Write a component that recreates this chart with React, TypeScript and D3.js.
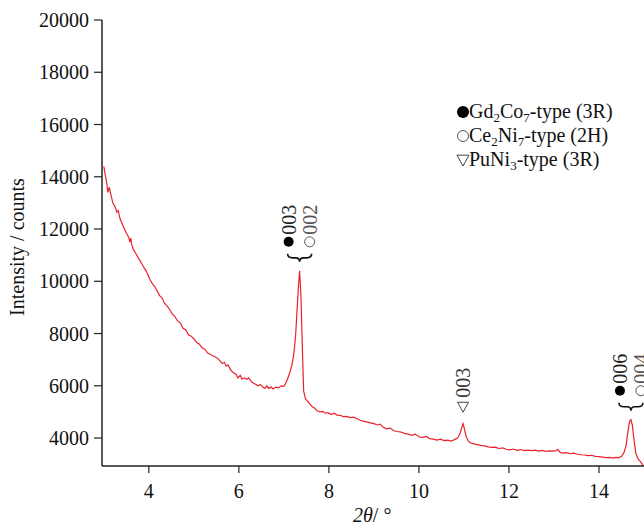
import React from 'react'
import * as d3 from 'd3'

// diffraction pattern
const twoTheta = [
  3.00, 3.04, 3.07, 3.09, 3.12, 3.16, 3.20, 3.25, 3.29, 3.32, 3.36, 3.42, 3.46, 3.50, 3.55, 3.58, 3.60, 3.62, 3.66, 3.70,
  3.75, 3.80, 3.85, 3.90, 3.94, 3.98, 4.03, 4.08, 4.13, 4.18, 4.24, 4.30, 4.35, 4.41, 4.47, 4.52, 4.58, 4.63, 4.70, 4.76,
  4.82, 4.88, 4.94, 5.00, 5.07, 5.12, 5.18, 5.24, 5.31, 5.37, 5.42, 5.48, 5.53, 5.58, 5.63, 5.68, 5.72, 5.76, 5.82, 5.88,
  5.93, 5.98, 6.03, 6.07, 6.12, 6.18, 6.22, 6.28, 6.33, 6.38, 6.43, 6.48, 6.53, 6.58, 6.62, 6.66, 6.72, 6.76, 6.82, 6.88,
  6.94, 7.00, 7.04, 7.08, 7.13, 7.18, 7.22, 7.26, 7.29, 7.32, 7.35, 7.38, 7.41, 7.44, 7.48, 7.53, 7.58, 7.63, 7.68, 7.73,
  7.80, 7.86, 7.92, 7.98, 8.05, 8.12, 8.18, 8.25, 8.32, 8.40, 8.47, 8.55, 8.62, 8.69, 8.76, 8.84, 8.92, 9.00, 9.08, 9.14,
  9.20, 9.28, 9.36, 9.44, 9.52, 9.60, 9.68, 9.76, 9.84, 9.92, 10.00, 10.08, 10.16, 10.24, 10.32, 10.40, 10.48, 10.56, 10.64, 10.72,
  10.80, 10.86, 10.91, 10.95, 10.98, 11.01, 11.05, 11.10, 11.16, 11.22, 11.30, 11.38, 11.46, 11.54, 11.62, 11.70, 11.78, 11.86, 11.94, 12.02,
  12.10, 12.18, 12.26, 12.34, 12.42, 12.50, 12.58, 12.66, 12.74, 12.82, 12.90, 12.98, 13.05, 13.09, 13.13, 13.20, 13.28, 13.36, 13.44, 13.52,
  13.60, 13.68, 13.76, 13.84, 13.92, 14.00, 14.08, 14.16, 14.24, 14.31, 14.38, 14.44, 14.50, 14.55, 14.60, 14.64, 14.68, 14.71, 14.74, 14.78,
  14.82, 14.87, 14.92, 14.96, 15.00,
]
const intensity = [
  14400, 14000, 13700, 13400, 13600, 13300, 13000, 12850, 12650, 12700, 12400, 12150, 12000, 11850, 11700, 11500, 11650, 11400, 11200, 11100,
  10950, 10800, 10650, 10500, 10400, 10250, 10050, 9900, 9800, 9650, 9450, 9350, 9150, 9050, 8900, 8750, 8650, 8500, 8400, 8200,
  8150, 7950, 7900, 7800, 7650, 7600, 7450, 7400, 7250, 7200, 7150, 7100, 7050, 6950, 6850, 6900, 6750, 6800, 6600, 6500,
  6450, 6300, 6400, 6250, 6300, 6250, 6300, 6150, 6100, 6050, 6000, 6050, 5950, 5900, 6000, 5900, 5950, 5880, 5950, 5920,
  6000, 5980, 6100, 6250, 6500, 6800, 7200, 7900, 8800, 9700, 10400, 9400, 7500, 5800, 5500, 5400, 5300, 5200, 5150, 5050,
  5000, 5020, 4950, 4970, 4900, 4950, 4880, 4870, 4820, 4830, 4780, 4800, 4750, 4680, 4650, 4620, 4580, 4550, 4500, 4530,
  4420, 4350, 4380, 4280, 4250, 4230, 4180, 4150, 4100, 4150, 4050, 4020, 4060, 3980, 3960, 3920, 3960, 3900, 3920, 3880,
  3950, 4000, 4150, 4400, 4550, 4350, 4050, 3880, 3800, 3780, 3750, 3720, 3700, 3660, 3640, 3650, 3600, 3620, 3570, 3550,
  3580, 3530, 3560, 3520, 3540, 3520, 3540, 3500, 3530, 3490, 3510, 3500, 3520, 3570, 3460, 3420, 3440, 3400, 3420, 3380,
  3360, 3350, 3330, 3340, 3300, 3290, 3270, 3250, 3260, 3230, 3260, 3250, 3300, 3420, 3700, 4200, 4650, 4700, 4500, 3900,
  3400, 3200, 3100, 3000, 2900,
]

const yTicks = [4000, 6000, 8000, 10000, 12000, 14000, 16000, 18000, 20000]
const xTicks = [4, 6, 8, 10, 12, 14]

// peak labels: 2θ and intensity at the top of the peak
const pairPeaks = [
  { at: 7.35, top: 10400, filled: '003', open: '002' },
  { at: 14.71, top: 4700, filled: '006', open: '004' },
]
const trianglePeaks = [{ at: 10.98, top: 4550, label: '003' }]

const legendLabels = [
  { symbol: 'filled', parts: ['Gd', '2', 'Co', '7', '-type (3R)'] },
  { symbol: 'open', parts: ['Ce', '2', 'Ni', '7', '-type (2H)'] },
  { symbol: 'triangle', parts: ['PuNi', '3', '-type (3R)'] },
]

const W = 644
const H = 525
const font = '"Liberation Serif", "Times New Roman", serif'
const ink = '#222'

function Symbol({ kind, x, y, r }: { kind: string; x: number; y: number; r: number }) {
  if (kind === 'filled') return <circle cx={x} cy={y} r={r} fill="#000" />
  if (kind === 'open') return <circle cx={x} cy={y} r={r} fill="none" stroke="#555" strokeWidth={1} />
  const s = r * 1.1
  return <path d={`M${x - s},${y - s * 0.8}L${x + s},${y - s * 0.8}L${x},${y + s}Z`} fill="none" stroke="#444" strokeWidth={1} />
}

function brace(cx: number, y0: number) {
  return `M${cx - 12},${y0} Q${cx - 12},${y0 + 4} ${cx - 7},${y0 + 4} L${cx - 4},${y0 + 4} Q${cx},${y0 + 4} ${cx},${y0 + 8}` +
    ` Q${cx},${y0 + 4} ${cx + 4},${y0 + 4} L${cx + 7},${y0 + 4} Q${cx + 12},${y0 + 4} ${cx + 12},${y0}`
}

export default function App() {
  const x = d3.scaleLinear().domain([2.96, 15]).range([102, 644])
  const y = d3.scaleLinear().domain([2930, 20000]).range([466, 20])
  const pts: [number, number][] = twoTheta.map((t, i) => [t, intensity[i]])
  const line = d3.line<[number, number]>().x(d => x(d[0])).y(d => y(d[1]))

  const x0 = x.range()[0]
  const yb = y.range()[0]

  return (
    <svg width={W} height={H} style={{ position: 'absolute', left: 0, top: 0, background: '#fff' }} fontFamily={font}>
      <defs>
        <clipPath id="plot"><rect x={x0} y={0} width={W - x0} height={yb - 0.5} /></clipPath>
      </defs>

      <path d={line(pts) || ''} fill="none" stroke="#e8222c" strokeWidth={1.2} clipPath="url(#plot)" />

      {/* axes */}
      <line x1={x0} x2={x0} y1={y(20000)} y2={yb} stroke={ink} strokeWidth={1.5} />
      <line x1={x0} x2={W} y1={yb} y2={yb} stroke={ink} strokeWidth={1.5} />
      {yTicks.map(t => (
        <g key={t}>
          <line x1={x0 - 8} x2={x0} y1={y(t)} y2={y(t)} stroke={ink} strokeWidth={1.2} />
          <text x={x0 - 13} y={y(t)} dy="0.35em" textAnchor="end" fontSize={20} fill="#111">{t}</text>
        </g>
      ))}
      {xTicks.map(t => (
        <g key={t}>
          <line x1={x(t)} x2={x(t)} y1={yb} y2={yb + 7} stroke={ink} strokeWidth={1.2} />
          <text x={x(t)} y={yb + 32} textAnchor="middle" fontSize={20} fill="#111">{t}</text>
        </g>
      ))}

      <text transform={`translate(24,247) rotate(-90)`} textAnchor="middle" fontSize={20} fill="#111">Intensity / counts</text>
      <text x={353} y={522} fontSize={20} fill="#111"><tspan fontStyle="italic">2θ</tspan>/ °</text>

      {/* peak annotations */}
      {pairPeaks.map(p => {
        const cx = x(p.at)
        const ty = y(p.top)
        return (
          <g key={p.at}>
            <path d={brace(cx, ty - 17)} fill="none" stroke="#111" strokeWidth={1.6} />
            <Symbol kind="filled" x={cx - 11} y={ty - 29} r={5} />
            <Symbol kind="open" x={cx + 10} y={ty - 29} r={5} />
            <text transform={`translate(${cx - 11},${ty - 36}) rotate(-90)`} dy="0.35em" fontSize={20} fill="#222">{p.filled}</text>
            <text transform={`translate(${cx + 10},${ty - 36}) rotate(-90)`} dy="0.35em" fontSize={20} fill="#555">{p.open}</text>
          </g>
        )
      })}
      {trianglePeaks.map(p => {
        const cx = x(p.at)
        const ty = y(p.top)
        return (
          <g key={p.at}>
            <Symbol kind="triangle" x={cx} y={ty - 17} r={5} />
            <text transform={`translate(${cx},${ty - 26}) rotate(-90)`} dy="0.35em" fontSize={20} fill="#333">{p.label}</text>
          </g>
        )
      })}

      {/* legend */}
      {legendLabels.map((l, i) => {
        const ly = 112 + i * 24
        return (
          <g key={i}>
            <Symbol kind={l.symbol} x={463} y={ly} r={l.symbol === 'filled' ? 6 : 5.5} />
            <text x={469} y={ly + 6} fontSize={20} fill="#111">
              {l.parts.map((s, j) => (
                j % 2 === 1 && j < l.parts.length - 1
                  ? <tspan key={j} fontSize={13} dy={4}>{s}</tspan>
                  : <tspan key={j} dy={j > 0 && (j - 1) % 2 === 1 ? -4 : 0}>{s}</tspan>
              ))}
            </text>
          </g>
        )
      })}
    </svg>
  )
}
